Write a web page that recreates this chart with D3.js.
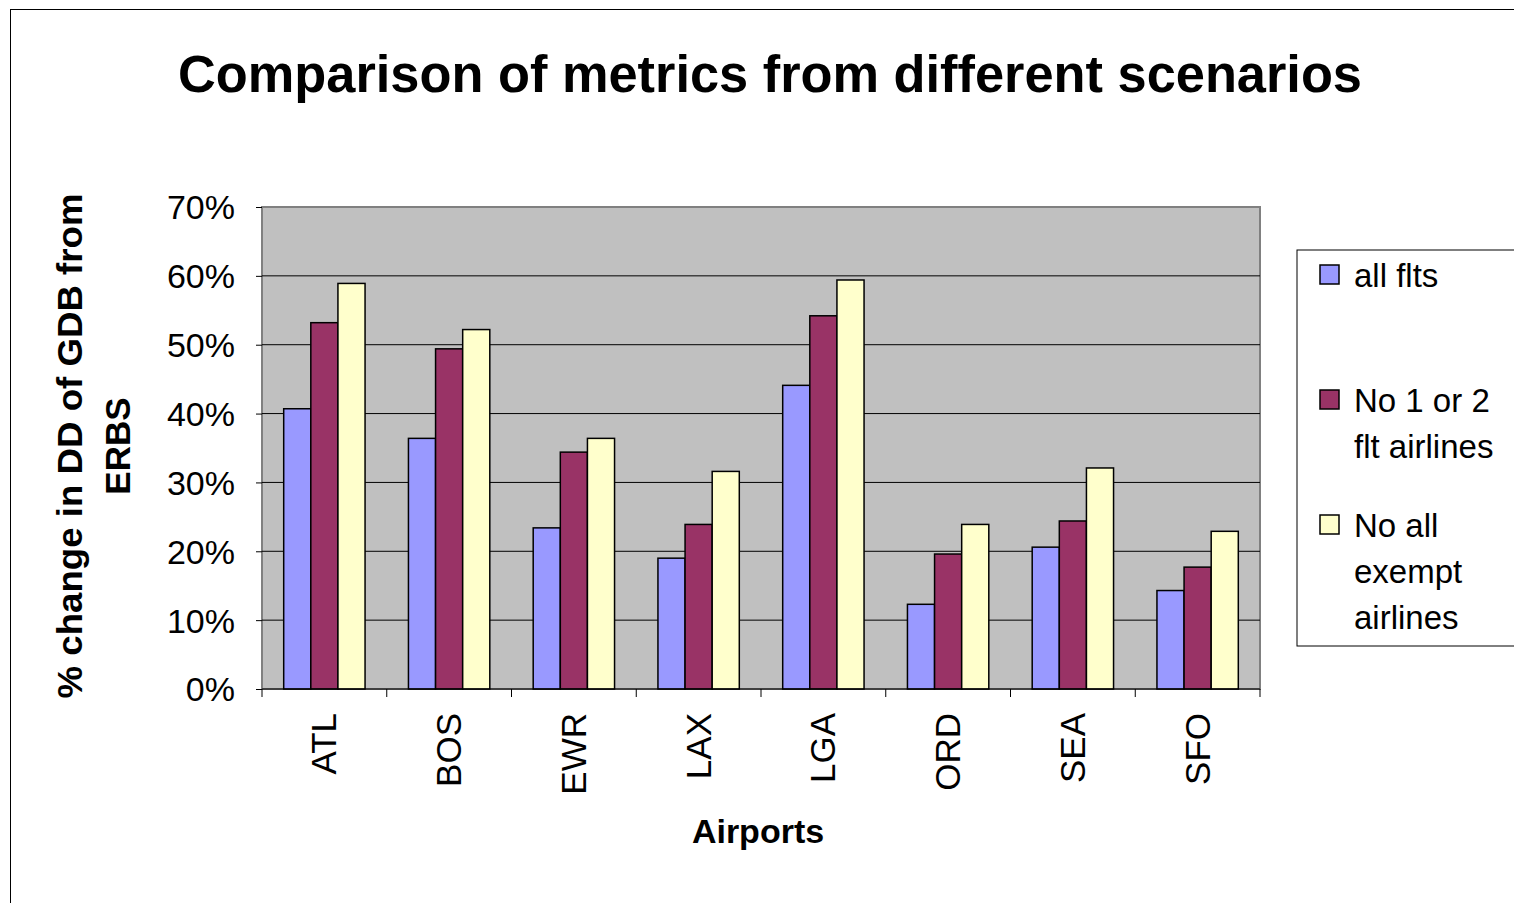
<!DOCTYPE html>
<html><head><meta charset="utf-8">
<script src="https://cdn.jsdelivr.net/npm/d3@7"></script>
<style>body{margin:0;background:#fff}svg{font-family:"Liberation Sans",Arial,sans-serif}</style>
</head><body><svg id="c" width="1514" height="903"></svg>
<script>
const categories=["ATL","BOS","EWR","LAX","LGA","ORD","SEA","SFO"];
const seriesNames=["all flts","No 1 or 2 flt airlines","No all exempt airlines"];
const allFlts=[40.7,36.4,23.4,19.0,44.1,12.3,20.6,14.3];
const no12=[53.2,49.4,34.4,23.9,54.2,19.6,24.4,17.7];
const noExempt=[58.9,52.2,36.4,31.6,59.4,23.9,32.1,22.9];
const colors=["#9999FF","#993366","#FFFFCC"];
const yTicks=[0,10,20,30,40,50,60,70];
const series=[allFlts,no12,noExempt];

const svg=d3.select("#c");
svg.append("rect").attr("x",10.5).attr("y",9.5).attr("width",1520).attr("height",900).attr("fill","none").attr("stroke","#000");
const L=262,R=1260,T=207,B=689;
const x=d3.scaleBand().domain(categories).range([L,R]);
const xs=d3.scaleBand().domain([0,1,2]).range([0,x.bandwidth()]).paddingInner(0).paddingOuter(0.8);
const y=d3.scaleLinear().domain([0,70]).range([B,T]);
svg.append("rect").attr("x",L).attr("y",T).attr("width",R-L).attr("height",B-T).attr("fill","#C0C0C0").attr("stroke","#808080").attr("stroke-width",2);
yTicks.slice(1,-1).forEach(t=>svg.append("line").attr("x1",L).attr("x2",R).attr("y1",y(t)).attr("y2",y(t)).attr("stroke","#000"));
series.forEach((s,i)=>{
 svg.selectAll(null).data(s).enter().append("rect")
  .attr("x",(d,j)=>x(categories[j])+xs(i)).attr("width",xs.bandwidth())
  .attr("y",d=>y(d)).attr("height",d=>B-y(d))
  .attr("fill",colors[i]).attr("stroke","#000").attr("stroke-width",1.5);
});
const ya=svg.append("g").attr("transform",`translate(${L},0)`).call(d3.axisLeft(y).tickValues(yTicks).tickFormat(d=>d+"%").tickSize(6).tickSizeOuter(0));
ya.selectAll("text").attr("font-size",34).attr("font-family","Liberation Sans, Arial").attr("fill","#000").attr("dx",-18).attr("dy","0.35em");
ya.select(".domain").remove();
const xa=svg.append("g").attr("transform",`translate(0,${B})`);
xa.append("line").attr("x1",L).attr("x2",R).attr("stroke","#000");
categories.concat(["_end"]).forEach((c,i)=>{const xx=L+i*x.step();xa.append("line").attr("x1",xx).attr("x2",xx).attr("y1",0).attr("y2",8).attr("stroke","#000");});
categories.forEach(c=>xa.append("text").attr("transform",`translate(${x(c)+x.bandwidth()/2+12},24) rotate(-90)`).attr("text-anchor","end").attr("font-size",35).text(c));
svg.append("text").attr("x",770).attr("y",92).attr("text-anchor","middle").attr("font-weight","bold").attr("font-size",51).attr("textLength",1184).attr("lengthAdjust","spacingAndGlyphs").text("Comparison of metrics from different scenarios");
svg.append("text").attr("x",758).attr("y",843).attr("text-anchor","middle").attr("font-weight","bold").attr("font-size",34).text("Airports");
const yt=svg.append("text").attr("transform","translate(0,0) rotate(-90)").attr("text-anchor","middle").attr("font-weight","bold").attr("font-size",35);
yt.append("tspan").attr("x",-446).attr("y",82).attr("textLength",505).attr("lengthAdjust","spacingAndGlyphs").text("% change in DD of GDB from");
yt.append("tspan").attr("x",-446).attr("y",130).text("ERBS");
svg.append("rect").attr("x",1297).attr("y",250).attr("width",230).attr("height",396).attr("fill","#fff").attr("stroke","#000");
const leg=[["all flts"],["No 1 or 2","flt airlines"],["No all","exempt","airlines"]];
const ly=[276,401,526];
leg.forEach((lines,i)=>{
 svg.append("rect").attr("x",1320).attr("y",ly[i]-11).attr("width",19).attr("height",19).attr("fill",colors[i]).attr("stroke","#000").attr("stroke-width",1.5);
 lines.forEach((t,k)=>svg.append("text").attr("x",1354).attr("y",ly[i]+11+k*46).attr("font-size",33).text(t));
});
</script></body></html>
